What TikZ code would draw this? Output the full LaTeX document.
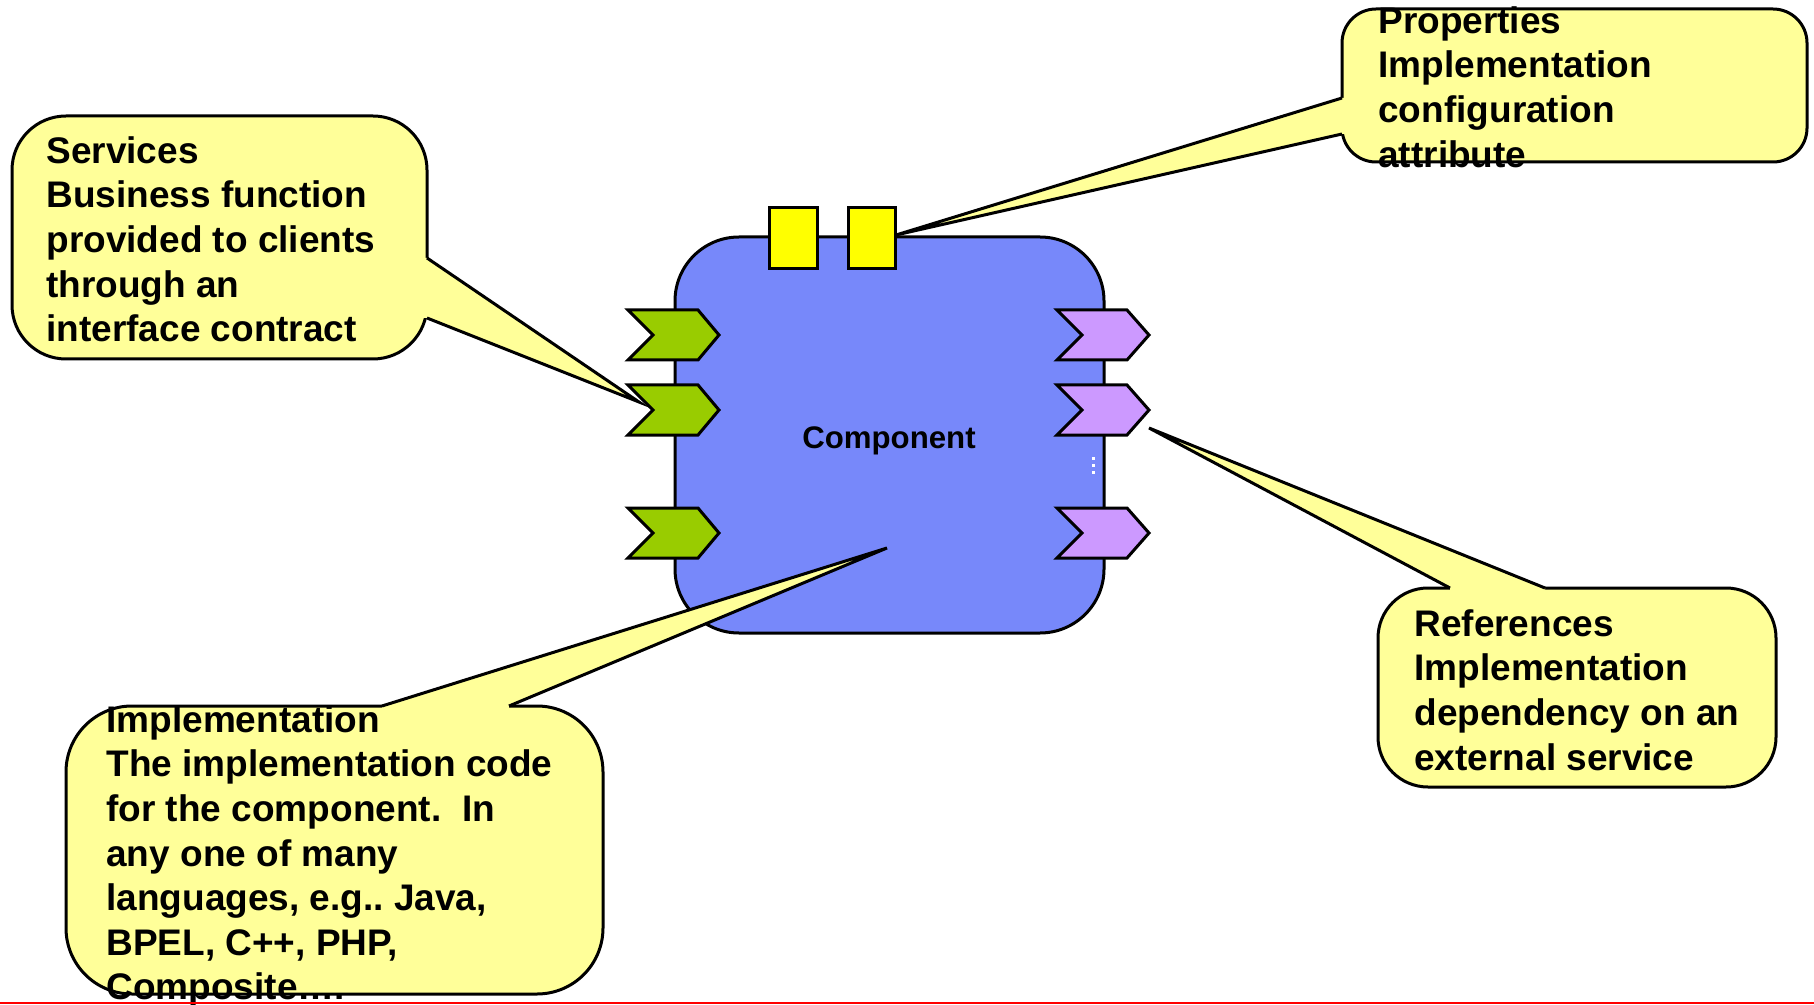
\documentclass[tikz,border=0pt]{standalone}
\usepackage{fontspec}
\setmainfont{Liberation Sans}
\definecolor{compblue}{RGB}{119,136,250}
\definecolor{portgreen}{RGB}{153,204,0}
\definecolor{portpurple}{RGB}{204,153,255}
\definecolor{propyellow}{RGB}{255,255,0}
\definecolor{notefill}{RGB}{255,255,153}
\frenchspacing
\begin{document}
\begin{tikzpicture}[x=0.5pt,y=-0.5pt,
  outline/.style={draw=black,line width=1.5pt,line join=miter},
  notebox/.style={outline,fill=notefill},
  noteline/.style={draw=black,line width=1.5pt},
  calltext/.style={anchor=north west,inner sep=0pt,align=left,
    font=\fontsize{18.5}{22.3}\selectfont\bfseries},
  service/.style={outline,fill=portgreen},
  reference/.style={outline,fill=portpurple},
  property/.style={outline,fill=propyellow}]
\useasboundingbox (0,0) rectangle (1814,1005);

% component body
\draw[outline,fill=compblue,rounded corners=32pt] (675,237) rectangle (1104,633);
\node[font=\fontsize{15.6}{18}\selectfont\bfseries,anchor=base,inner sep=0pt]
  (comp) at (889,448) {Component};
\foreach \yy in {458,465,472}
  \fill[white] (1091.5,\yy-1.5) rectangle (1094.5,\yy+1.5);

% property slots on top
\draw[property] (769,208) rectangle (817,269);
\draw[property] (848,208) rectangle (895,269);

% service ports (left) and reference ports (right)
\foreach \yy in {335,410,533}{
  \draw[service] (628,\yy-25) -- (698,\yy-25) -- (719,\yy) -- (698,\yy+25)
    -- (628,\yy+25) -- (653,\yy) -- cycle;
}
\foreach \yy in {335,410,533}{
  \draw[reference] (1057,\yy-25) -- (1127,\yy-25) -- (1149,\yy) -- (1127,\yy+25)
    -- (1057,\yy+25) -- (1082,\yy) -- cycle;
}

% Services callout
\coordinate (svcA) at (427,258);
\coordinate (svcB) at (427,318);
\coordinate (svcTip) at (639,402);
\draw[notebox,rounded corners=27pt] (12,116) rectangle (427,359);
\fill[notefill] ([xshift=-2pt]svcA) -- (svcA) -- (svcTip) -- (svcB) -- ([xshift=-2pt]svcB) -- cycle;
\draw[noteline] (svcA) -- (svcTip) -- (svcB);
\node[calltext] (svctext) at (46,136)
  {Services\\Business function\\provided to clients\\through an\\interface contract};

% Properties callout
\coordinate (prpA) at (1342,98);
\coordinate (prpB) at (1342,134);
\coordinate (prpTip) at (896,235);
\draw[notebox,rounded corners=17pt] (1342,9) rectangle (1807,162);
\fill[notefill] ([xshift=2pt]prpA) -- (prpA) -- (prpTip) -- (prpB) -- ([xshift=2pt]prpB) -- cycle;
\draw[noteline] (prpA) -- (prpTip) -- (prpB);
\node[calltext] (prptext) at (1378,6)
  {Properties\\Implementation\\configuration\\attribute};

% References callout
\coordinate (refA) at (1450,588);
\coordinate (refB) at (1545,588);
\coordinate (refTip) at (1149,428);
\draw[notebox,rounded corners=25pt] (1378,588) rectangle (1776,787);
\fill[notefill] ([yshift=-2pt]refA) -- (refA) -- (refTip) -- (refB) -- ([yshift=-2pt]refB) -- cycle;
\draw[noteline] (refA) -- (refTip) -- (refB);
\node[calltext] (reftext) at (1414,609)
  {References\\Implementation\\dependency on an\\external service};

% Implementation callout
\coordinate (impA) at (382,706);
\coordinate (impB) at (509,706);
\coordinate (impTip) at (887,548);
\draw[notebox,rounded corners=33pt] (66,706) rectangle (603,994);
\fill[notefill] ([yshift=-2pt]impA) -- (impA) -- (impTip) -- (impB) -- ([yshift=-2pt]impB) -- cycle;
\draw[noteline] (impA) -- (impTip) -- (impB);
\node[calltext] (imptext) at (106,705)
  {Implementation\\The implementation code\\for the component.\ \ In\\any one of many\\languages, e.g.. Java,\\BPEL, C++, PHP,\\Composite….};

% rule along the bottom edge
\draw[red,line width=1pt] (0,1003) -- (1814,1003);
\end{tikzpicture}
\end{document}
